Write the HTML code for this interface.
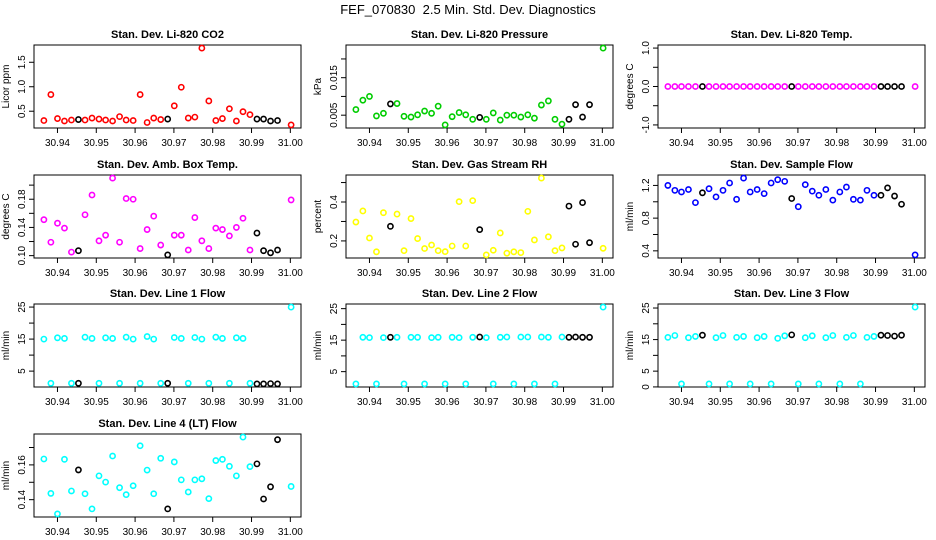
<!DOCTYPE html>
<html><head><meta charset="utf-8"><style>
html,body{margin:0;padding:0;background:#fff;}
svg{display:block;font-family:"Liberation Sans",Arial,sans-serif;}
</style></head><body>
<svg id="chart" width="936" height="540" viewBox="0 0 936 540" xmlns="http://www.w3.org/2000/svg">
<text x="468" y="14" text-anchor="middle" font-size="13">FEF_070830&#160; 2.5 Min. Std. Dev. Diagnostics</text>
</svg>
<script>
const times = [30.9365,30.9383,30.9400,30.9418,30.9436,30.9454,30.9471,30.9489,30.9507,30.9524,30.9542,30.9560,30.9577,30.9595,30.9613,30.9631,30.9648,30.9666,30.9684,30.9701,30.9719,30.9737,30.9754,30.9772,30.9790,30.9808,30.9825,30.9843,30.9861,30.9878,30.9896,30.9914,30.9931,30.9949,30.9967,31.0002];
const blackIdx = [5,18,31,32,33,34];
const xTicks = [30.94,30.95,30.96,30.97,30.98,30.99,31.00];
const xTickLabels = ["30.94","30.95","30.96","30.97","30.98","30.99","31.00"];

const co2 = [0.31,0.84,0.35,0.30,0.32,0.33,0.32,0.36,0.34,0.32,0.30,0.39,0.32,0.31,0.84,0.27,0.36,0.33,0.34,0.61,0.99,0.36,0.38,1.79,0.71,0.31,0.35,0.55,0.30,0.49,0.43,0.34,0.34,0.30,0.31,0.22];
const pressure = [0.0065,0.0090,0.0100,0.0048,0.0055,0.0080,0.0081,0.0047,0.0045,0.0051,0.0061,0.0055,0.0074,0.0024,0.0046,0.0057,0.0051,0.0039,0.0044,0.0039,0.0056,0.0037,0.0050,0.0050,0.0045,0.0051,0.0042,0.0077,0.0088,0.0039,0.0026,0.0039,0.0078,0.0045,0.0078,0.0229];
const liTemp = [0,0,0,0,0,0,0,0,0,0,0,0,0,0,0,0,0,0,0,0,0,0,0,0,0,0,0,0,0,0,0,0,0,0,0,0];
const boxTemp = [0.151,0.119,0.146,0.139,0.105,0.107,0.158,0.186,0.121,0.129,0.210,0.119,0.181,0.180,0.110,0.137,0.156,0.115,0.101,0.129,0.129,0.108,0.154,0.121,0.110,0.139,0.137,0.128,0.140,0.153,0.108,0.132,0.107,0.104,0.108,0.179];
const rh = [0.297,0.354,0.215,0.144,0.345,0.275,0.338,0.150,0.315,0.212,0.161,0.179,0.150,0.145,0.174,0.402,0.174,0.407,0.258,0.128,0.152,0.241,0.137,0.144,0.140,0.352,0.205,0.523,0.221,0.150,0.164,0.379,0.183,0.397,0.191,0.162];
const sampleFlow = [1.20,1.14,1.12,1.15,0.99,1.11,1.16,1.06,1.14,1.23,1.03,1.29,1.12,1.15,1.10,1.23,1.27,1.25,1.04,0.94,1.21,1.13,1.08,1.15,1.02,1.12,1.18,1.03,1.02,1.14,1.08,1.08,1.17,1.07,0.97,0.35];
const line1 = [15.0,1.2,15.4,15.2,1.2,1.2,15.6,15.2,1.2,15.4,15.2,1.2,15.6,15.0,1.2,15.8,15.0,1.2,1.2,15.5,15.2,1.2,15.5,15.0,1.2,15.6,15.2,1.2,15.4,15.2,1.2,1.0,1.0,1.1,1.0,25.0];
const line2 = [1.1,15.9,15.8,1.1,15.8,15.9,15.9,1.1,15.9,15.9,1.1,15.8,15.9,1.1,15.9,15.8,1.1,15.9,16.0,15.8,1.1,15.9,16.0,1.1,16.0,16.0,1.1,16.0,15.9,1.1,16.0,15.9,16.0,15.9,15.9,25.5];
const line3 = [15.7,16.3,0.95,15.6,16.0,16.4,0.95,15.6,16.3,0.95,15.7,16.0,0.95,15.6,16.0,0.95,15.4,16.2,16.5,0.95,15.6,16.2,0.95,15.6,16.3,0.95,15.7,16.3,0.95,15.7,16.0,16.4,16.3,16.1,16.4,25.3];
const line4 = [0.1634,0.1436,0.1318,0.1632,0.1450,0.1571,0.1434,0.1347,0.1537,0.1501,0.1651,0.1469,0.1429,0.1480,0.1710,0.1570,0.1434,0.1638,0.1347,0.1617,0.1514,0.1444,0.1514,0.1520,0.1406,0.1625,0.1632,0.1592,0.1537,0.1760,0.1590,0.1606,0.1404,0.1474,0.1745,0.1476];

const panels = [
 {name:"co2",title:"Stan. Dev. Li-820 CO2",ylab:"Licor ppm",col:"#ff0000",data:co2,ticks:[0.5,1.0,1.5],labels:["0.5","1.0","1.5"],r:0,c:0},
 {name:"pressure",title:"Stan. Dev. Li-820 Pressure",ylab:"kPa",col:"#00cd00",data:pressure,ticks:[0.005,0.010,0.015,0.020],labels:["0.005","","0.015",""],r:0,c:1},
 {name:"li820-temp",title:"Stan. Dev. Li-820 Temp.",ylab:"degrees C",col:"#ff00ff",data:liTemp,ticks:[-1,-0.5,0,0.5,1],labels:["-1.0","","0.0","","1.0"],r:0,c:2,fixed:[-1,1]},
 {name:"box-temp",title:"Stan. Dev. Amb. Box Temp.",ylab:"degrees C",col:"#ff00ff",data:boxTemp,ticks:[0.10,0.12,0.14,0.16,0.18,0.20],labels:["0.10","","0.14","","0.18",""],r:1,c:0},
 {name:"rh",title:"Stan. Dev. Gas Stream RH",ylab:"percent",col:"#ffff00",data:rh,ticks:[0.2,0.3,0.4,0.5],labels:["0.2","","0.4",""],r:1,c:1},
 {name:"sample-flow",title:"Stan. Dev. Sample Flow",ylab:"ml/min",col:"#0000ff",data:sampleFlow,ticks:[0.4,0.6,0.8,1.0,1.2],labels:["0.4","","0.8","","1.2"],r:1,c:2},
 {name:"line1-flow",title:"Stan. Dev. Line 1 Flow",ylab:"ml/min",col:"#00ffff",data:line1,ticks:[5,10,15,20,25],labels:["5","","15","","25"],r:2,c:0},
 {name:"line2-flow",title:"Stan. Dev. Line 2 Flow",ylab:"ml/min",col:"#00ffff",data:line2,ticks:[5,10,15,20,25],labels:["5","","15","","25"],r:2,c:1},
 {name:"line3-flow",title:"Stan. Dev. Line 3 Flow",ylab:"ml/min",col:"#00ffff",data:line3,ticks:[0,5,10,15,20,25],labels:["0","5","","15","","25"],r:2,c:2},
 {name:"line4-flow",title:"Stan. Dev. Line 4 (LT) Flow",ylab:"ml/min",col:"#00ffff",data:line4,ticks:[0.14,0.15,0.16,0.17],labels:["0.14","","0.16",""],r:3,c:0}
];

const svg = document.getElementById('chart');
const NS = "http://www.w3.org/2000/svg";
function mk(tag, attrs, parent){ const e=document.createElementNS(NS,tag); for(const k in attrs) e.setAttribute(k,attrs[k]); (parent||svg).appendChild(e); return e; }
const lefts=[34,346,658], tops=[45,175,304,434], W=267, H=83;
const xmin=Math.min(...times), xmax=Math.max(...times), xp=(xmax-xmin)*0.04;

panels.forEach(p=>{
  const L=lefts[p.c], T=tops[p.r];
  const g=mk('g',{});
  
  
  let lo,hi;
  if(p.fixed){lo=p.fixed[0];hi=p.fixed[1];} else {lo=Math.min(...p.data);hi=Math.max(...p.data);}
  const yp=(hi-lo)*0.04; lo-=yp; hi+=yp;
  const xs=v=>L+(v-(xmin-xp))/((xmax+xp)-(xmin-xp))*W;
  const ys=v=>T+H-(v-lo)/(hi-lo)*H;
  const box=mk('rect',{x:L,y:T,width:W,height:H,fill:'none',stroke:'#000','stroke-width':1},g);
  
  
  const t=mk('text',{x:L+W/2,y:T-7,'text-anchor':'middle','font-size':11,'font-weight':'bold'},g);
  t.textContent=p.title;
  
  
  const yl=mk('text',{x:0,y:0,'text-anchor':'middle','font-size':10,transform:`translate(${L-25},${T+H/2}) rotate(-90)`},g);
  yl.textContent=p.ylab;
  
  
  xTicks.forEach((v,i)=>{
    const x=xs(v);
    mk('line',{x1:x,y1:T+H,x2:x,y2:T+H+5,stroke:'#000'},g);
    const tl=mk('text',{x:x,y:T+H+18,'text-anchor':'middle','font-size':10},g);
    tl.textContent=xTickLabels[i];
    
    
  });
  p.ticks.forEach((v,i)=>{
    const y=ys(v);
    mk('line',{x1:L-5,y1:y,x2:L,y2:y,stroke:'#000'},g);
    if(p.labels[i]){
      const tl=mk('text',{x:0,y:0,'text-anchor':'middle','font-size':10,transform:`translate(${L-9},${y}) rotate(-90)`},g);
      tl.textContent=p.labels[i];
      
      
    }
  });
  p.data.forEach((v,i)=>{
    const c=mk('circle',{cx:xs(times[i]),cy:ys(v),r:2.6,fill:'none',stroke:blackIdx.includes(i)?'#000':p.col,'stroke-width':1.6},g);
    
    
  });
});
</script>
</body></html>
